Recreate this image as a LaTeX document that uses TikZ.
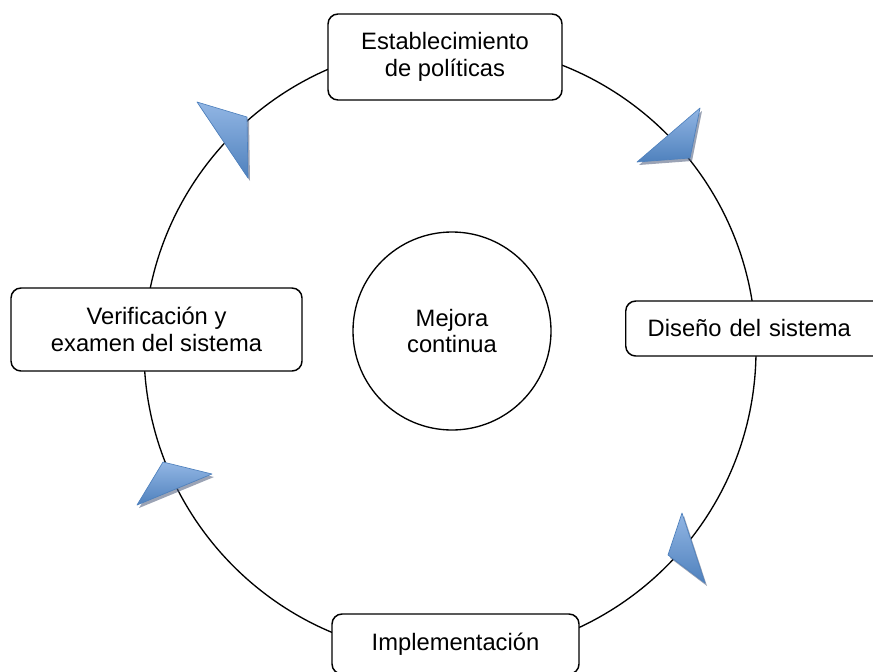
\documentclass[tikz,border=0pt]{standalone}
\usepackage{fontspec}
\setmainfont{Liberation Sans}
\definecolor{tipblue}{RGB}{79,129,189}
\definecolor{tiplight}{RGB}{146,182,228}
\definecolor{tipshade}{RGB}{72,88,120}
\tikzset{
  stage/.style={draw, rounded corners=7.5pt, line width=1.1pt, fill=white,
    align=center, inner sep=0pt, font=\fontsize{17.8}{20.5}\selectfont},
  flowtip/.style={draw=tipblue, line width=0.5pt, line join=round,
    top color=tiplight, bottom color=tipblue},
  tipshadow/.style={fill=tipshade, opacity=0.55}
}
\begin{document}
\begin{tikzpicture}[x=0.75pt, y=-0.75pt]
  \useasboundingbox (0,0) rectangle (873,671);
  % outer cycle and centre
  \node[draw, circle, line width=1pt, minimum size=459pt] (ring) at (450,350) {};
  \node[draw, circle, line width=1pt, minimum size=148.5pt, align=center,
    font=\fontsize{17.8}{19.5}\selectfont] (core) at (452,331) {Mejora\\continua};
  % stages
  \node[stage, minimum width=175.5pt, minimum height=64.5pt] (policy) at (445,57)
    {Establecimiento\\de políticas};
  \node[stage, anchor=west, align=left, inner xsep=16.5pt, text width=170pt,
    minimum height=41.25pt] (design) at (625,328.5) {Diseño del sistema};
  \node[stage, minimum width=185.25pt, minimum height=45pt] (impl) at (455.5,644)
    {Implementación};
  \node[stage, minimum width=218.25pt, minimum height=62.25pt] (check) at (156.5,329.5)
    {Verificación y\\examen del sistema};
  % arrow tips on the ring
  \foreach \a/\b/\c in {{197,102}/{247,117}/{248,178},
      {700,108}/{637,162}/{690,158},
      {163,462}/{212,474}/{137,505},
      {682,513}/{668,555}/{705,583}} {
    \fill[tipshadow, shift={(2,3)}] (\a) -- (\b) -- (\c) -- cycle;
    \draw[flowtip] (\a) -- (\b) -- (\c) -- cycle;
  }
\end{tikzpicture}
\end{document}
